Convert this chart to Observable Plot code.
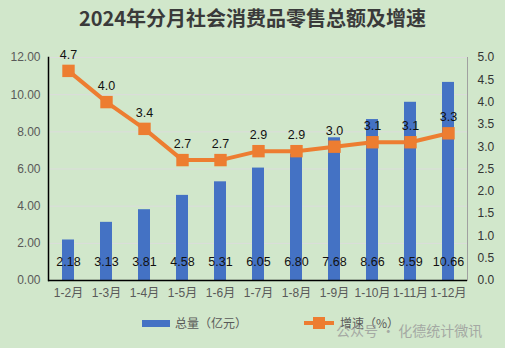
<!DOCTYPE html>
<html><head><meta charset="utf-8">
<script src="https://cdn.jsdelivr.net/npm/d3@7"></script>
<script src="https://cdn.jsdelivr.net/npm/@observablehq/plot@0.6"></script>
<style>
body{margin:0;background:#D1E7CB;width:505px;height:348px;overflow:hidden;position:relative;font-family:"Liberation Sans","Noto Sans CJK SC",sans-serif;}
#title{height:36px;line-height:36px;text-align:center;font-family:"Noto Sans CJK SC",sans-serif;font-weight:bold;font-size:20px;color:#3a3a3a;}
#legend{position:absolute;top:312px;left:0;width:505px;height:36px;font-family:"Noto Sans CJK SC",sans-serif;font-size:12px;color:#595959;}
</style></head><body>
<div id="title">2024年分月社会消费品零售总额及增速</div>
<div id="chart"></div>
<div id="legend">
<svg width="505" height="36">
<rect x="142" y="8" width="28" height="7" fill="#4472C4"/>
<text x="175" y="16" font-size="12" fill="#595959">总量（亿元）</text>
<line x1="304" y1="11" x2="334" y2="11" stroke="#ED7D31" stroke-width="4"/>
<rect x="313" y="5" width="12" height="12" fill="#ED7D31"/>
<text x="340" y="16" font-size="12" fill="#595959">增速（%）</text>
<text x="336" y="24" font-size="14" fill="#9a9a9a" opacity="0.8">公众号 · 化德统计微讯</text>
</svg>
</div>
<script>
const months = ["1-2月","1-3月","1-4月","1-5月","1-6月","1-7月","1-8月","1-9月","1-10月","1-11月","1-12月"];
const totals = [2.18,3.13,3.81,4.58,5.31,6.05,6.80,7.68,8.66,9.59,10.66];
const growth = [4.7,4.0,3.4,2.7,2.7,2.9,2.9,3.0,3.1,3.1,3.3];
const leftTicks = [0,2,4,6,8,10,12];
const rightTicks = [0,0.5,1,1.5,2,2.5,3,3.5,4,4.5,5];
const k = 12/5;
const data = months.map((m,i)=>({m, total: totals[i], g: growth[i], gs: growth[i]*k}));
const font = "Liberation Sans, Noto Sans CJK SC, sans-serif";
const chart = Plot.plot({
  width: 505, height: 276,
  marginLeft: 48, marginRight: 38, marginTop: 21, marginBottom: 32,
  style: {background: "transparent", fontFamily: font, fontSize: "12px", color: "#595959"},
  x: {domain: months, padding: 0, label: null},
  y: {domain: [0, 12], label: null},
  marks: [
    Plot.ruleY(leftTicks.filter(d=>d>0), {stroke: "#dcdcdc", strokeWidth: 1}),
    Plot.barY(data, {x: "m", y: "total", fill: "#4472C4", insetLeft: 13, insetRight: 13}),
    Plot.axisY(leftTicks, {anchor: "left", tickSize: 0, tickPadding: 8, tickFormat: d=>d.toFixed(2), fontSize: 12, fill: "#595959"}),
    Plot.axisY(rightTicks.map(d=>d*k), {anchor: "right", tickSize: 0, tickPadding: 10, tickFormat: d=>(d/k).toFixed(1), fontSize: 12, fill: "#333"}),
    Plot.axisX({tickSize: 0, tickPadding: 8, fontSize: 12, fill: "#595959"}),
    Plot.ruleY([0], {stroke: "black", strokeWidth: 1.5}),
    Plot.frame({anchor: "left", stroke: "black", strokeWidth: 1.5}),
    Plot.frame({anchor: "right", stroke: "#a0a0a0", strokeWidth: 1}),
    Plot.line(data, {x: "m", y: "gs", stroke: "#ED7D31", strokeWidth: 4}),
    Plot.dot(data, {x: "m", y: "gs", symbol: "square", r: 7, fill: "#ED7D31"}),
    Plot.text(data, {x: "m", y: "gs", text: d=>d.g.toFixed(1), dy: -16, fontSize: 12.5, fill: "#111"}),
    Plot.text(data, {x: "m", text: d=>d.total.toFixed(2), frameAnchor: "bottom", dy: -15, fontSize: 12.5, fill: "#111"})
  ]
});
document.getElementById("chart").append(chart);
</script>
</body></html>
